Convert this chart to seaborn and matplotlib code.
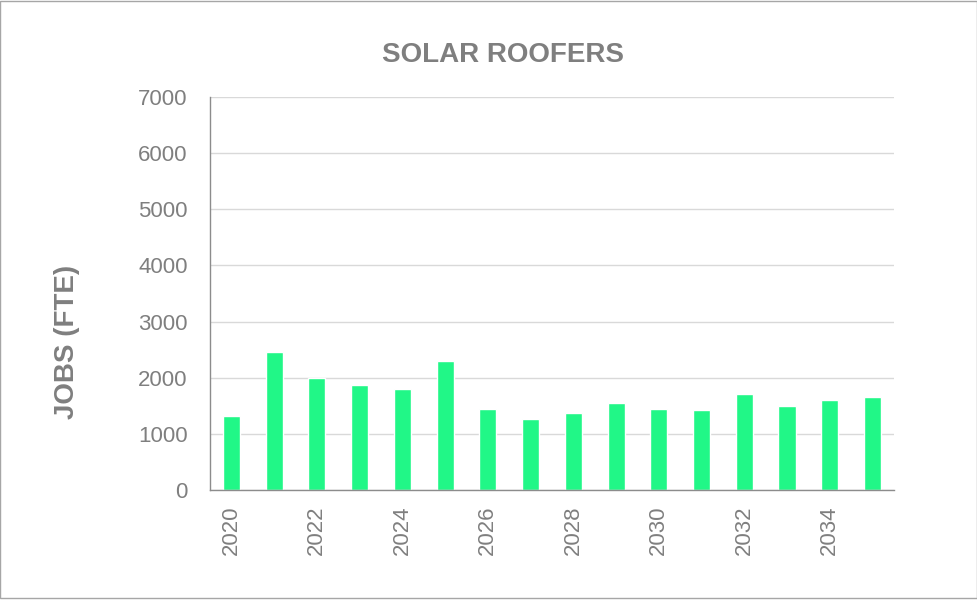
import numpy as np
import pandas as pd
import seaborn as sns
import matplotlib.pyplot as plt
from matplotlib.patches import Rectangle

# Data
years = ["2020", "2021", "2022", "2023", "2024", "2025", "2026", "2027",
         "2028", "2029", "2030", "2031", "2032", "2033", "2034", "2035"]
jobs = [1310, 2455, 1990, 1865, 1805, 2290, 1440, 1265,
        1370, 1550, 1435, 1420, 1710, 1490, 1605, 1650]
year_labels = years[::2]

df = pd.DataFrame({"year": years, "jobs": jobs})

sns.set_style("white")
plt.rcParams['font.family'] = ['Liberation Sans', 'DejaVu Sans']

grey_text = "#7f7f7f"
grey_line = "#8c8c8c"

fig, ax = plt.subplots(figsize=(9.78, 6.01), dpi=100)
fig.subplots_adjust(left=0.2147, right=0.914, top=0.8386, bottom=0.1847)

sns.barplot(data=df, x="year", y="jobs", color="#21F787", width=0.4,
            saturation=1, ax=ax)

# Axes limits and ticks
ax.set_ylim(0, 7000)
ax.set_yticks(range(0, 7001, 1000))
ax.set_xlim(-0.5, 15.5)
ax.set_xticks(range(0, 16, 2))
ax.set_xticklabels(year_labels, rotation=90)
ax.set_xticks(np.arange(-0.5, 16, 1), minor=True)

ax.tick_params(axis="x", which="major", length=0, pad=11.5,
               labelsize=16, labelcolor=grey_text)
ax.tick_params(axis="x", which="minor", length=5, width=1, color=grey_line,
               direction="out")
ax.tick_params(axis="y", length=6, width=1, color=grey_line, pad=10,
               labelsize=16, labelcolor=grey_text)

# Gridlines and spines
ax.yaxis.grid(True, color="#d9d9d9", lw=1)
ax.set_axisbelow(True)
sns.despine(ax=ax, top=True, right=True)
for s in ["left", "bottom"]:
    ax.spines[s].set_color(grey_line)
    ax.spines[s].set_linewidth(1)

ax.set_xlabel("")
ax.set_ylabel("JOBS (FTE)", fontsize=20, fontweight="bold", color=grey_text)
ax.yaxis.set_label_coords(-0.19, 0.377)

fig.text(0.514, 0.9085, "SOLAR ROOFERS", ha="center", va="center",
         fontsize=20, fontweight="bold", color=grey_text)

# Outer chart border
fig.patches.append(Rectangle((0.0005, 0.005), 0.998, 0.994,
                             transform=fig.transFigure, fill=False,
                             ec="#a6a6a6", lw=1))

fig.savefig("out.png", dpi=100)
